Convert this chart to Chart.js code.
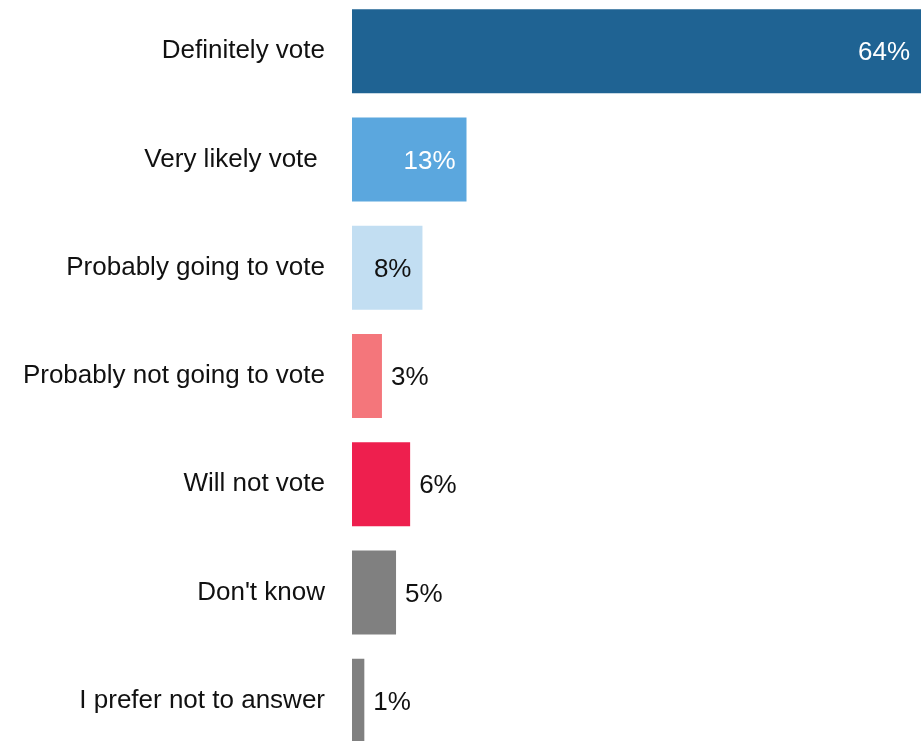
<!DOCTYPE html>
<html>
<head>
<meta charset="utf-8">
<script src="https://cdn.jsdelivr.net/npm/chart.js@4.4.1/dist/chart.umd.min.js"></script>
<style>
  html, body { margin: 0; padding: 0; background: #fff; overflow: hidden; }
  #myChart { position: absolute; left: 0; top: -3px; }
</style>
</head>
<body>
<canvas id="myChart" width="921" height="758"></canvas>
<script>
// Data
const categories = [
  "Definitely vote",
  "Very likely vote ",
  "Probably going to vote",
  "Probably not going to vote",
  "Will not vote",
  "Don't know",
  "I prefer not to answer",
];
const shares = [64.6, 13, 8, 3.4, 6.6, 5, 1.4];
const shareLabels = ["64%", "13%", "8%", "3%", "6%", "5%", "1%"];

const barColors = ["#1F6393", "#5BA7DE", "#C2DEF2", "#F4767B", "#EE1F4E", "#808080", "#808080"];
const labelColors = ["#fff", "#fff", "#111", "#111", "#111", "#111", "#111"];

// draws the value labels: inside the end of the wide bars, just past the end of the short ones
const valueLabels = {
  id: "valueLabels",
  afterDatasetsDraw(chart) {
    const ctx = chart.ctx;
    const meta = chart.getDatasetMeta(0);
    ctx.save();
    ctx.font = "26px 'Liberation Sans', Arial, sans-serif";
    ctx.textBaseline = "middle";
    meta.data.forEach((bar, i) => {
      const inside = shares[i] >= 8;
      ctx.fillStyle = labelColors[i];
      if (inside) {
        ctx.textAlign = "right";
        ctx.fillText(shareLabels[i], bar.x - 11, bar.y + 2);
      } else {
        ctx.textAlign = "left";
        ctx.fillText(shareLabels[i], bar.x + 9, bar.y + 2);
      }
    });
    ctx.restore();
  },
};

const ctx = document.getElementById("myChart").getContext("2d");
const myChart = new Chart(ctx, {
  type: "bar",
  data: {
    labels: categories,
    datasets: [
      {
        data: shares,
        backgroundColor: barColors,
        borderWidth: 0,
        barPercentage: 1,
        categoryPercentage: 0.776,
      },
    ],
  },
  options: {
    indexAxis: "y",
    responsive: false,
    animation: false,
    layout: { padding: 0 },
    plugins: {
      legend: { display: false },
      tooltip: { enabled: false },
    },
    scales: {
      x: {
        display: false,
        min: 0,
        max: 64.6,
      },
      y: {
        grid: { display: false, drawTicks: false },
        border: { display: false },
        ticks: {
          padding: 27,
          color: "#111",
          font: { family: "'Liberation Sans', Arial, sans-serif", size: 26 },
        },
        afterFit: (scale) => {
          scale.width = 352;
          // the tick padding should only push labels left, not shrink the plot vertically
          scale.paddingTop = 0;
          scale.paddingBottom = 0;
        },
      },
    },
  },
  plugins: [valueLabels],
});
</script>
</body>
</html>
